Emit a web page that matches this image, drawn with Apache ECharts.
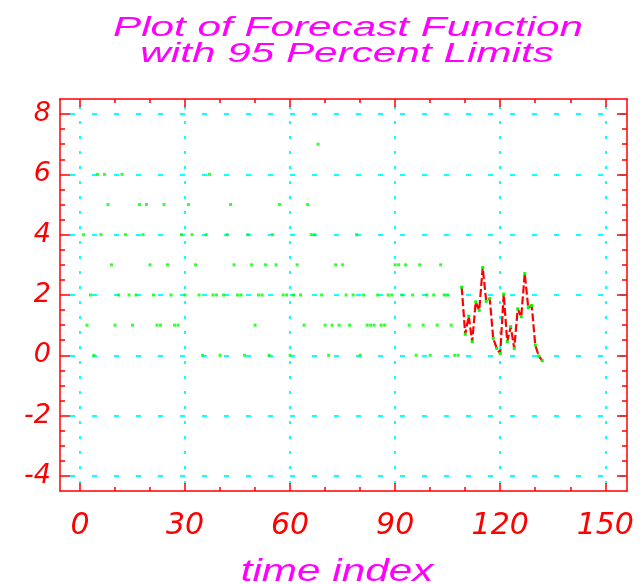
<!DOCTYPE html>
<html>
<head>
<meta charset="utf-8">
<script src="https://cdn.jsdelivr.net/npm/echarts@6/dist/echarts.min.js"></script>
<style>
  html, body { margin: 0; padding: 0; background: #fff; }
  #chart { width: 644px; height: 584px; }
</style>
</head>
<body>
<div id="chart"></div>
<script>
// observed counts, time index 1..108
const counts = [
  4, 1, 2, 0, 6, 4, 6, 5, 3, 1,
  2, 6, 4, 2, 1, 2, 5, 4, 5, 3,
  2, 1, 1, 5, 3, 2, 1, 1, 4, 2,
  5, 4, 3, 2, 0, 4, 6, 2, 2, 0,
  2, 4, 5, 3, 2, 2, 0, 4, 3, 1,
  2, 2, 3, 0, 4, 3, 5, 2, 2, 0,
  2, 3, 2, 1, 5, 4, 4, 7, 2, 1,
  0, 1, 3, 1, 3, 2, 1, 2, 4, 0,
  2, 1, 1, 1, 2, 1, 1, 2, 2, 3,
  3, 2, 3, 1, 2, 0, 3, 1, 2, 0,
  2, 1, 3, 2, 2, 1, 0, 0
];
const countStart = 1;

// forecast function, time index 109..132
const forecast = [
  2.26, 0.70, 1.30, 0.45, 1.77, 1.49, 2.91, 1.79, 1.88, 0.56,
  0.23, 0.06, 2.03, 0.45, 0.95, 0.23, 1.54, 1.28, 2.71, 1.58,
  1.65, 0.34, -0.02, -0.18
];
const forecastStart = 109;

// ticks
const xMajor = [0, 30, 60, 90, 120, 150];
const xMinor = [10, 20, 40, 50, 70, 80, 100, 110, 130, 140];
const yMajor = [-4, -2, 0, 2, 4, 6, 8];
const yMinor = [-3.5, -3, -2.5, -1.5, -1, -0.5, 0.5, 1, 1.5, 2.5, 3, 3.5, 4.5, 5, 5.5, 6.5, 7, 7.5];

const X_MIN = -5.7, X_MAX = 156.2;
const Y_MIN = -4.5, Y_MAX = 8.5;
const RED = '#ff0000';

const myChart = echarts.init(document.getElementById('chart'));

// one axis = one set of inward ticks (major or minor) on one side of the frame
function xAxisDef(position, ticks, len, withLabels, withGrid) {
  return {
    type: 'value', position, min: X_MIN, max: X_MAX,
    axisLine: { show: withGrid, onZero: false, lineStyle: { color: RED, width: 1.5 } },
    axisTick: { show: true, inside: true, length: len, customValues: ticks, lineStyle: { color: RED, width: 1.5 } },
    axisLabel: {
      show: withLabels, customValues: ticks, margin: 20,
      color: RED, fontSize: 30, fontStyle: 'italic', fontFamily: 'DejaVu Sans'
    },
    splitLine: {
      show: withGrid,
      lineStyle: { color: '#00ffff', width: 1.5, type: [3, 12], dashOffset: -7 }
    }
  };
}
function yAxisDef(position, ticks, len, withLabels, withGrid) {
  return {
    type: 'value', position, min: Y_MIN, max: Y_MAX,
    axisLine: { show: withGrid, onZero: false, lineStyle: { color: RED, width: 1.5 } },
    axisTick: { show: true, inside: true, length: len, customValues: ticks, lineStyle: { color: RED, width: 1.5 } },
    axisLabel: {
      show: withLabels, customValues: ticks, margin: 9,
      color: RED, fontSize: 27, fontStyle: 'italic', fontFamily: 'DejaVu Sans'
    },
    splitLine: {
      show: withGrid,
      lineStyle: { color: '#00ffff', width: 1.5, type: [5, 17], dashOffset: -10 }
    }
  };
}

const titleFont = { fontStyle: 'italic', fontFamily: 'Liberation Sans', fill: '#ff00ff' };

const option = {
  animation: false,
  backgroundColor: '#fff',
  grid: { left: 60, right: 17, top: 99, bottom: 93, outerBoundsMode: 'none' },
  xAxis: [
    xAxisDef('bottom', xMajor, 8, true, true),
    xAxisDef('bottom', xMinor, 4, false, false),
    xAxisDef('top', xMajor, 8, false, true),
    xAxisDef('top', xMinor, 4, false, false)
  ],
  yAxis: [
    yAxisDef('left', yMajor, 10, true, true),
    yAxisDef('left', yMinor, 5, false, false),
    yAxisDef('right', yMajor, 10, false, true),
    yAxisDef('right', yMinor, 5, false, false)
  ],
  graphic: [
    { type: 'text', x: 348, y: 28, scaleX: 1.51, silent: true,
      style: Object.assign({ text: 'Plot of Forecast Function', fontSize: 28, textAlign: 'center', textVerticalAlign: 'middle' }, titleFont) },
    { type: 'text', x: 347, y: 54, scaleX: 1.51, silent: true,
      style: Object.assign({ text: 'with 95 Percent Limits', fontSize: 28, textAlign: 'center', textVerticalAlign: 'middle' }, titleFont) },
    { type: 'text', x: 337, y: 572, scaleX: 1.32, silent: true,
      style: Object.assign({ text: 'time index', fontSize: 32, textAlign: 'center', textVerticalAlign: 'middle' }, titleFont) }
  ],
  series: [
    {
      name: 'observed',
      type: 'scatter',
      xAxisIndex: 0, yAxisIndex: 0,
      symbol: 'rect', symbolSize: 3,
      itemStyle: { color: '#00ff00' },
      data: counts.map((v, i) => [countStart + i, v]),
      z: 5
    },
    {
      name: 'forecast',
      type: 'line',
      xAxisIndex: 0, yAxisIndex: 0,
      symbol: 'rect', symbolSize: 3, showAllSymbol: true,
      itemStyle: { color: '#00ff00' },
      lineStyle: { color: RED, width: 2.2, type: [8, 3] },
      data: forecast.map((v, i) => [forecastStart + i, v]),
      z: 4
    }
  ]
};

myChart.setOption(option);
</script>
</body>
</html>
